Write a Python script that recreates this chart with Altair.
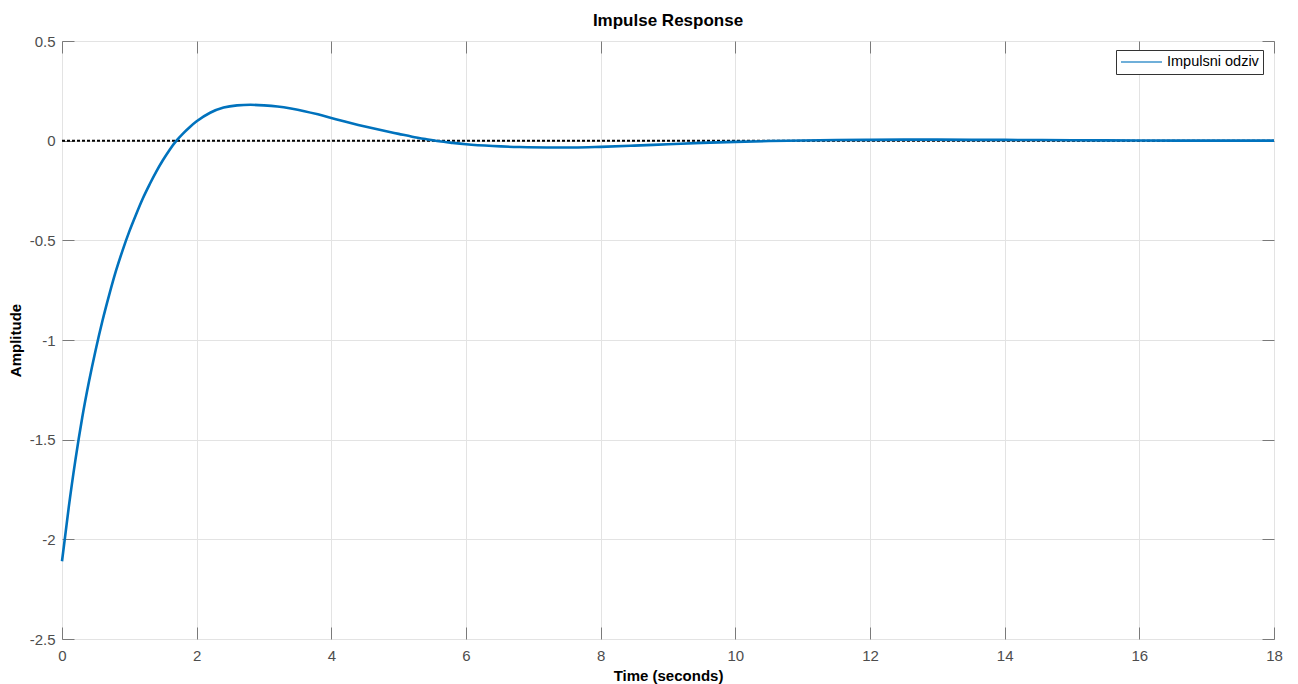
import altair as alt
import pandas as pd

# --- data ---
t_vals = [0, 0.05, 0.1, 0.2, 0.3, 0.4, 0.5, 0.6, 0.7, 0.8, 0.9, 1.0, 1.1, 1.2, 1.3, 1.4,
          1.5, 1.6, 1.7, 1.8, 1.9, 2.0, 2.2, 2.4, 2.6, 2.8, 3.0, 3.2, 3.4, 3.6, 3.8, 4.0,
          4.2, 4.4, 4.6, 4.8, 5.0, 5.2, 5.4, 5.6, 5.8, 6.0, 6.4, 6.8, 7.2, 7.6, 8.0, 8.5,
          9.0, 9.5, 10.0, 10.5, 11.0, 11.5, 12.0, 12.5, 13.0, 13.5, 14.0, 15.0, 16.0,
          17.0, 18.0]
amp_vals = [-2.11, -1.975, -1.84, -1.60, -1.39, -1.21, -1.05, -0.905, -0.775, -0.655,
            -0.55, -0.455, -0.37, -0.29, -0.22, -0.155, -0.097, -0.045, 0.0, 0.037,
            0.069, 0.097, 0.140, 0.166, 0.177, 0.180, 0.177, 0.171, 0.161, 0.148, 0.132,
            0.114, 0.096, 0.079, 0.063, 0.048, 0.034, 0.020, 0.008, -0.003, -0.011,
            -0.018, -0.027, -0.032, -0.034, -0.034, -0.031, -0.025, -0.018, -0.011,
            -0.006, -0.002, 0.001, 0.003, 0.004, 0.005, 0.005, 0.004, 0.004, 0.002,
            0.001, 0.0, 0.0]
series_name = "Impulsni odziv"
x_ticks = [0, 2, 4, 6, 8, 10, 12, 14, 16, 18]
y_ticks = [-2.5, -2, -1.5, -1, -0.5, 0, 0.5]
x_domain = [0, 18]
y_domain = [-2.5, 0.5]
zero_line = {"x0": [0], "x1": [18], "v": [0]}

W, H = 1212, 598
FONT = "Liberation Sans"
TICK_COLOR = "#7a7a7a"
GRID_COLOR = "#e3e3e3"
LABEL_COLOR = "#4d4d4d"

df = pd.DataFrame({"t": t_vals, "amp": amp_vals, "series": series_name})
zdf = pd.DataFrame(zero_line)

xs = alt.Scale(domain=x_domain, nice=False, zero=False)
ys = alt.Scale(domain=y_domain, nice=False, zero=False)

# Layer 1: dotted zero reference line, carrying inward ticks on bottom & left edges
zero = alt.Chart(zdf).mark_rule(color="black", strokeDash=[3, 2], strokeWidth=2).encode(
    x=alt.X("x0:Q", scale=xs, title=None,
            axis=alt.Axis(orient="top", offset=-H, values=x_ticks, labels=False, grid=False,
                          domain=False, ticks=True, tickSize=12, tickColor=TICK_COLOR)),
    x2="x1:Q",
    y=alt.Y("v:Q", scale=ys, title=None,
            axis=alt.Axis(orient="right", offset=-W, values=y_ticks, labels=False, grid=False,
                          domain=False, ticks=True, tickSize=12, tickColor=TICK_COLOR)),
)

# Layer 2: invisible copy carrying inward ticks on top & right edges
ticks2 = alt.Chart(zdf).mark_rule(opacity=0).encode(
    x=alt.X("x0:Q", scale=xs, title=None,
            axis=alt.Axis(orient="bottom", offset=-H, values=x_ticks, labels=False, grid=False,
                          domain=False, ticks=True, tickSize=12, tickColor=TICK_COLOR)),
    x2="x1:Q",
    y=alt.Y("v:Q", scale=ys, title=None,
            axis=alt.Axis(orient="left", offset=-W, values=y_ticks, labels=False, grid=False,
                          domain=False, ticks=True, tickSize=12, tickColor=TICK_COLOR)),
)

# Layer 3: the impulse response curve with the labelled axes and the legend
curve = alt.Chart(df).mark_line(strokeWidth=2.6, interpolate="monotone").encode(
    x=alt.X("t:Q", scale=xs,
            axis=alt.Axis(orient="bottom", values=x_ticks, title="Time (seconds)", grid=True,
                          gridColor=GRID_COLOR, domain=False, ticks=False, labelPadding=9,
                          labelFontSize=15, labelColor=LABEL_COLOR, labelFont=FONT,
                          titleFont=FONT, titleFontSize=15, titleFontWeight="bold",
                          titleColor="black", titlePadding=5, labelFlush=False)),
    y=alt.Y("amp:Q", scale=ys,
            axis=alt.Axis(orient="left", values=y_ticks, title="Amplitude", grid=True,
                          gridColor=GRID_COLOR, domain=False, ticks=False, labelPadding=7,
                          labelFontSize=15, labelColor=LABEL_COLOR, labelFont=FONT,
                          labelExpr="toString(datum.value)",
                          titleFont=FONT, titleFontSize=15, titleFontWeight="bold",
                          titleColor="black", titlePadding=6, labelFlush=False)),
    color=alt.Color("series:N", scale=alt.Scale(range=["#0072BD"]),
                    legend=alt.Legend(title=None, orient="none", legendX=1054, legendY=9,
                                      symbolType="stroke", symbolSize=1681, clipHeight=16,
                                      symbolStrokeWidth=1.5, symbolOpacity=0.75,
                                      labelFont=FONT, labelFontSize=14.5, labelColor="black",
                                      labelOffset=4, padding=4, strokeColor="#333333",
                                      fillColor="white", cornerRadius=0)),
)

chart = alt.layer(zero, ticks2, curve).resolve_axis(
    x="independent", y="independent"
).properties(
    width=W, height=H,
    title=alt.Title("Impulse Response", font=FONT, fontSize=17, fontWeight="bold",
                    color="black", anchor="middle", offset=4),
    autosize=alt.AutoSizeParams(type="none"),
    padding={"left": 54, "top": 33, "right": 16, "bottom": 45},
).configure_view(stroke="#808080", strokeWidth=1)

chart.save("out.html", embed_options={"renderer": "svg", "actions": False})
